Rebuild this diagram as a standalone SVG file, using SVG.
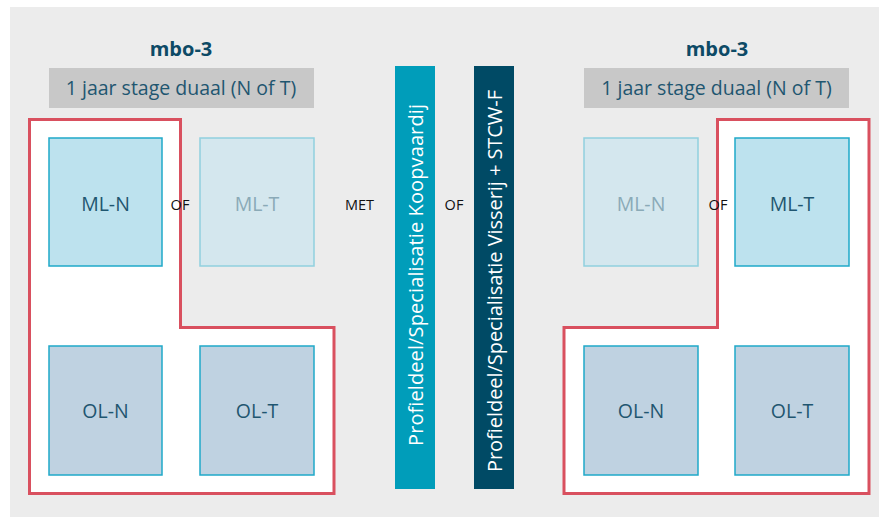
<svg xmlns="http://www.w3.org/2000/svg" width="879" height="517" viewBox="0 0 879 517">
<style>
.bg{fill:#ececec}
.title{font-family:"Open Sans","Liberation Sans",sans-serif;font-weight:bold;font-size:20px;fill:#0d4a66;text-anchor:middle}
.stage{fill:#c8c8c8}
.stxt{font-family:"Open Sans","Liberation Sans",sans-serif;font-size:19.5px;fill:#1f5670;text-anchor:middle}
.sel{fill:#ffffff;stroke:#d9505f;stroke-width:3}
.ml{fill:#bde2ee;stroke:#1fa9c9;stroke-width:1.5}
.mlf{fill:#d4e7ee;stroke:#90d0de;stroke-width:1.5}
.ol{fill:#bfd2e1;stroke:#1fa9c9;stroke-width:1.5}
.lbl{font-family:"Open Sans","Liberation Sans",sans-serif;font-size:19.5px;fill:#1f5670;text-anchor:middle}
.lblf{font-family:"Open Sans","Liberation Sans",sans-serif;font-size:19.5px;fill:#8aaab7;text-anchor:middle}
.op{font-family:"Open Sans","Liberation Sans",sans-serif;font-size:14.5px;fill:#111111;text-anchor:middle}
.bar{font-family:"Open Sans","Liberation Sans",sans-serif;font-size:20px;fill:#ffffff;text-anchor:middle}
</style>
<rect class="bg" x="10" y="7" width="869" height="510"/>

<g id="left-panel">
  <text class="title" x="181" y="56">mbo-3</text>
  <rect class="stage" x="49" y="68" width="265" height="40"/>
  <text class="stxt" x="181" y="95">1 jaar stage duaal (N of T)</text>
  <path class="sel" d="M29.5,119.5 H180.5 V327.5 H334 V493.5 H29.5 Z"/>
</g>
<g id="left-ml-n"><rect class="ml" x="49" y="138" width="113" height="128"/><text class="lbl" x="105.5" y="211">ML-N</text></g>
<g id="left-ml-t"><rect class="mlf" x="200" y="138" width="114" height="128"/><text class="lblf" x="257" y="211">ML-T</text></g>
<g id="left-ol-n"><rect class="ol" x="49" y="346" width="113" height="129"/><text class="lbl" x="105.5" y="418">OL-N</text></g>
<g id="left-ol-t"><rect class="ol" x="200" y="346" width="114" height="129"/><text class="lbl" x="257" y="418">OL-T</text></g>

<g id="bar-koopvaardij">
  <rect x="395" y="66" width="40" height="423" fill="#009dba"/>
  <text class="bar" transform="translate(423,275) rotate(-90)" textLength="342">Profieldeel/Specialisatie Koopvaardij</text>
</g>
<g id="bar-visserij">
  <rect x="474" y="66" width="40" height="423" fill="#004a65"/>
  <text class="bar" transform="translate(501.5,281) rotate(-90)" textLength="382">Profieldeel/Specialisatie Visserij + STCW-F</text>
</g>

<g id="right-panel">
  <text class="title" x="717" y="56">mbo-3</text>
  <rect class="stage" x="584" y="68" width="265" height="40"/>
  <text class="stxt" x="716.5" y="95">1 jaar stage duaal (N of T)</text>
  <path class="sel" d="M717.5,119.5 H869 V493.5 H564 V327.5 H717.5 Z"/>
</g>
<g id="right-ml-n"><rect class="mlf" x="584" y="138" width="114" height="128"/><text class="lblf" x="641" y="211">ML-N</text></g>
<g id="right-ml-t"><rect class="ml" x="735" y="138" width="114" height="128"/><text class="lbl" x="792" y="211">ML-T</text></g>
<g id="right-ol-n"><rect class="ol" x="584" y="346" width="114" height="129"/><text class="lbl" x="641" y="418">OL-N</text></g>
<g id="right-ol-t"><rect class="ol" x="735" y="346" width="114" height="129"/><text class="lbl" x="792" y="418">OL-T</text></g>

<g id="connectors">
  <text class="op" x="180" y="210">OF</text>
  <text class="op" x="359.5" y="210">MET</text>
  <text class="op" x="454" y="210">OF</text>
  <text class="op" x="718" y="210">OF</text>
</g>
</svg>
